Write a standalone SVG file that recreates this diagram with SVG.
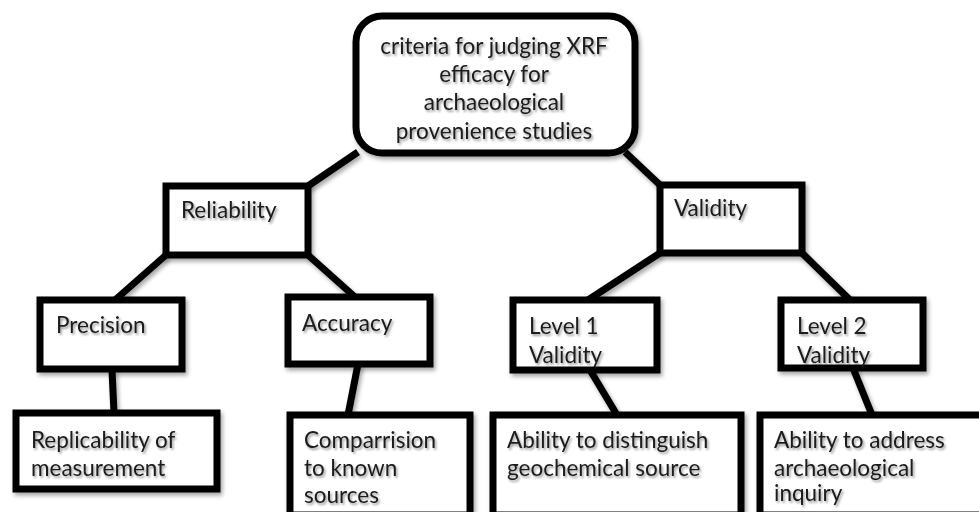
<svg xmlns="http://www.w3.org/2000/svg" width="979" height="512" viewBox="0 0 979 512">
<defs>
<filter id="sh" filterUnits="userSpaceOnUse" x="0" y="0" width="979" height="512">
<feDropShadow dx="2" dy="3" stdDeviation="2" flood-color="#000" flood-opacity="0.35"/>
</filter>
<filter id="tsh" filterUnits="userSpaceOnUse" x="0" y="0" width="979" height="512">
<feDropShadow dx="1.5" dy="2" stdDeviation="1.2" flood-color="#000" flood-opacity="0.4"/>
</filter>
</defs>
<style>
.box{fill:#fff;stroke:#000;stroke-width:7;stroke-linejoin:miter;filter:url(#sh)}
.con{stroke:#000;stroke-width:7;stroke-linecap:butt;fill:none;filter:url(#sh)}
text{font-family:Lato,"Open Sans","Liberation Sans",sans-serif;font-size:22.5px;fill:#1a1a1a;filter:url(#tsh)}
.c{text-anchor:middle}
</style>
<rect width="979" height="512" fill="#fff"/>
<g id="connectors">
<line class="con" x1="358" y1="152" x2="308" y2="186"/>
<line class="con" x1="625" y1="152" x2="660" y2="185"/>
<line class="con" x1="166" y1="255" x2="115" y2="300"/>
<line class="con" x1="308" y1="255" x2="355" y2="297"/>
<line class="con" x1="660" y1="253" x2="588" y2="300"/>
<line class="con" x1="802" y1="253" x2="850" y2="300"/>
<line class="con" x1="112" y1="370" x2="114" y2="413"/>
<line class="con" x1="358" y1="364" x2="348" y2="415"/>
<line class="con" x1="590" y1="370" x2="617" y2="415"/>
<line class="con" x1="853" y1="368" x2="872" y2="415"/>
</g>
<g id="root">
<rect class="box" x="356" y="16" width="279" height="137" rx="26"/>
<text class="c" x="494" y="54">criteria for judging XRF</text>
<text class="c" x="494" y="82">efficacy for</text>
<text class="c" x="494" y="110">archaeological</text>
<text class="c" x="494" y="139">provenience studies</text>
</g>
<g id="reliability">
<rect class="box" x="166" y="186" width="142" height="69"/>
<text x="181" y="218">Reliability</text>
</g>
<g id="validity">
<rect class="box" x="660" y="185" width="142" height="68"/>
<text x="674" y="216">Validity</text>
</g>
<g id="precision">
<rect class="box" x="40" y="300" width="142" height="69"/>
<text x="56" y="333">Precision</text>
</g>
<g id="accuracy">
<rect class="box" x="288" y="297" width="142" height="67"/>
<text x="302" y="331">Accuracy</text>
</g>
<g id="level1">
<rect class="box" x="513" y="300" width="144" height="70"/>
<text x="529" y="334">Level 1</text>
<text x="529" y="363">Validity</text>
</g>
<g id="level2">
<rect class="box" x="781" y="300" width="142" height="68"/>
<text x="797" y="334">Level 2</text>
<text x="797" y="363">Validity</text>
</g>
<g id="replicability">
<rect class="box" x="16" y="413" width="201" height="76"/>
<text x="31" y="448">Replicability of</text>
<text x="31" y="476">measurement</text>
</g>
<g id="comparrision">
<rect class="box" x="290" y="415" width="180" height="100"/>
<text x="304" y="448">Comparrision</text>
<text x="304" y="476">to known</text>
<text x="304" y="503">sources</text>
</g>
<g id="distinguish">
<rect class="box" x="493" y="415" width="248" height="100"/>
<text x="507" y="448">Ability to distinguish</text>
<text x="507" y="476">geochemical source</text>
</g>
<g id="address">
<rect class="box" x="760" y="415" width="240" height="100"/>
<text x="774" y="448">Ability to address</text>
<text x="774" y="476">archaeological</text>
<text x="774" y="501">inquiry</text>
</g>
</svg>
